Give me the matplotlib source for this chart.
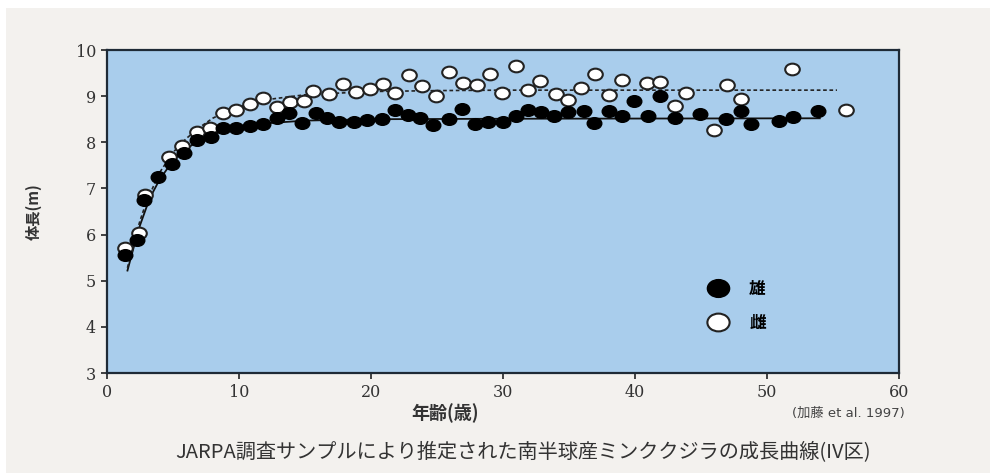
import matplotlib.pyplot as plt
import matplotlib.patches as mpatches
from matplotlib.lines import Line2D
from matplotlib.path import Path
from matplotlib.transforms import Affine2D

plt.rcParams['font.family'] = ['Noto Sans CJK JP', 'DejaVu Sans']

# male (filled) mean body length by age
male_age = [1.4, 2.3, 2.8, 3.9, 4.9, 5.8, 6.8, 7.9, 8.8, 9.8, 10.8, 11.8, 12.9, 13.8,
            14.8, 15.8, 16.7, 17.6, 18.7, 19.7, 20.8, 21.8, 22.8, 23.7, 24.7, 25.9,
            26.9, 27.9, 28.9, 30.0, 31.0, 31.9, 32.9, 33.9, 34.9, 36.1, 36.9, 38.0,
            39.0, 39.9, 41.0, 41.9, 43.0, 44.9, 46.9, 48.0, 48.8, 50.9, 52.0, 53.9]
male_len = [5.56, 5.88, 6.76, 7.25, 7.54, 7.77, 8.05, 8.12, 8.32, 8.32, 8.35, 8.39, 8.52, 8.63,
            8.41, 8.63, 8.52, 8.45, 8.45, 8.48, 8.50, 8.70, 8.59, 8.52, 8.37, 8.50,
            8.72, 8.39, 8.45, 8.45, 8.57, 8.70, 8.66, 8.57, 8.66, 8.68, 8.41, 8.68,
            8.57, 8.90, 8.57, 9.01, 8.52, 8.61, 8.50, 8.68, 8.40, 8.47, 8.54, 8.68]

# female (open)
female_age = [1.4, 2.4, 2.9, 4.7, 5.7, 6.8, 7.8, 8.8, 9.8, 10.8, 11.8, 12.9, 13.9, 14.9,
              15.6, 16.8, 17.9, 18.9, 19.9, 20.9, 21.8, 22.9, 23.9, 24.9, 25.9, 27.0,
              28.0, 29.0, 29.9, 31.0, 31.9, 32.8, 34.0, 34.9, 35.9, 37.0, 38.0, 39.0,
              40.9, 41.9, 43.0, 43.9, 46.0, 47.0, 48.0, 51.9, 56.0]
female_len = [5.70, 6.03, 6.86, 7.69, 7.92, 8.23, 8.31, 8.63, 8.71, 8.83, 8.95, 8.77, 8.88, 8.89,
              9.11, 9.04, 9.26, 9.08, 9.15, 9.26, 9.06, 9.46, 9.21, 9.00, 9.53, 9.29,
              9.25, 9.48, 9.06, 9.65, 9.13, 9.33, 9.04, 8.92, 9.18, 9.49, 9.02, 9.36,
              9.29, 9.31, 8.79, 9.06, 8.27, 9.24, 8.94, 9.58, 8.70]

# fitted growth curves
male_fit_age = [1.55, 2.0, 2.5, 3.0, 3.5, 4.0, 5.0, 6.0, 7.0, 8.0, 9.0, 10.0, 12.0, 15.0, 20.0, 30.0, 54.0]
male_fit_len = [5.22, 5.70, 6.20, 6.60, 6.93, 7.20, 7.60, 7.86, 8.04, 8.17, 8.26, 8.33, 8.41, 8.47, 8.50, 8.51, 8.52]
female_fit_age = [1.55, 2.0, 2.5, 3.0, 4.0, 5.0, 6.0, 7.0, 8.0, 9.0, 10.0, 12.0, 15.0, 20.0, 25.0, 30.0, 55.3]
female_fit_len = [5.28, 5.80, 6.30, 6.72, 7.35, 7.78, 8.08, 8.32, 8.52, 8.66, 8.77, 8.92, 9.03, 9.10, 9.12, 9.13, 9.13]

x_ticks = [0, 10, 20, 30, 40, 50, 60]
y_ticks = [3, 4, 5, 6, 7, 8, 9, 10]

# slightly wide oval marker
oval = Path.unit_circle().transformed(Affine2D().scale(1.25, 1.0))

fig = plt.figure(figsize=(9.9, 4.73), dpi=100)
fig.patch.set_facecolor('white')
bg = mpatches.Rectangle((0.006, 0), 0.994, 1 - 8 / 473, transform=fig.transFigure,
                        facecolor='#f3f1ee', edgecolor='none', zorder=-10)
fig.patches.append(bg)

ax = fig.add_axes([107 / 990, 1 - 373 / 473, 792 / 990, 323 / 473])
ax.set_zorder(1)
ax.set_facecolor('#a9cdec')

ax.plot(male_fit_age, male_fit_len, color='#111111', lw=1.3, zorder=2)
ax.plot(female_fit_age, female_fit_len, color='#222222', lw=1.2, ls=(0, (2.2, 1.6)), zorder=2)

ax.plot(female_age, female_len, ls='none', marker=oval, ms=10.5, mfc='white',
        mec='#222222', mew=1.5, zorder=3)
ax.plot(male_age, male_len, ls='none', marker=oval, ms=10.5, mfc='black',
        mec='black', mew=1.0, zorder=4)

ax.set_xlim(0, 60)
ax.set_ylim(3, 10)
ax.set_xticks(x_ticks)
ax.set_yticks(y_ticks)
tick_font = dict(family='DejaVu Serif', size=11.5, color='#333333')
ax.set_xticklabels([str(v) for v in x_ticks], **tick_font)
ax.set_yticklabels([str(v) for v in y_ticks], **tick_font)
ax.tick_params(direction='out', length=4, width=1.2, color='#222222', pad=4)
for s in ax.spines.values():
    s.set_color('#1e2a36')
    s.set_linewidth(1.6)

ax.set_ylabel('体長(m)', fontsize=11, color='#333333', fontweight='bold', labelpad=24)

# legend
handles = [Line2D([], [], ls='none', marker=oval, ms=16, mfc='black', mec='black'),
           Line2D([], [], ls='none', marker=oval, ms=16, mfc='white', mec='#222222', mew=1.5)]
leg = ax.legend(handles, ['雄', '雌'], loc='upper left', bbox_to_anchor=(0.733, 0.335),
                frameon=False, handletextpad=1.0, labelspacing=0.95, handlelength=1.8,
                prop=dict(family='Noto Sans CJK JP', size=12, weight='bold'))

fig.text(445 / 990, 1 - 413 / 473, '年齢(歳)', ha='center', va='center', fontsize=13,
         color='#333333', fontweight='bold')
fig.text(905 / 990, 1 - 413 / 473, '(加藤 et al. 1997)', ha='right', va='center', fontsize=9.5,
         color='#444444', family=['DejaVu Sans', 'Noto Sans CJK JP'])
fig.text(523 / 990, 1 - 452 / 473, 'JARPA調査サンプルにより推定された南半球産ミンククジラの成長曲線(IV区)',
         ha='center', va='center', fontsize=14.5, color='#333333')

fig.savefig('out.png', dpi=100, facecolor=fig.get_facecolor())
